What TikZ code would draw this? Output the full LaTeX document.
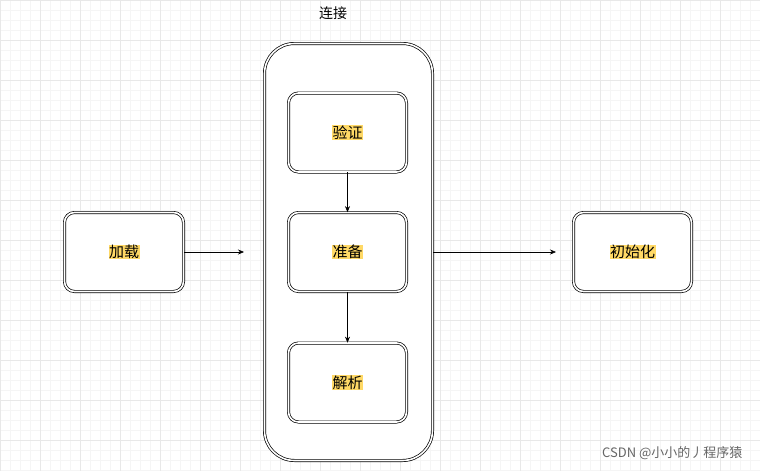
\documentclass[tikz,border=0pt]{standalone}
\usepackage{fontspec}
\setmainfont{Noto Sans CJK SC}
\begin{document}
\begin{tikzpicture}[x=1pt,y=-1pt,
 box/.style={draw,double,double distance=1.6pt,line width=0.7pt,rounded corners=10pt,fill=white},
 hl/.style={fill={rgb,255:red,255;green,217;blue,102},inner sep=0.5pt,font=\fontsize{15}{15}\selectfont},
 arr/.style={-{Stealth[length=6pt,width=5pt]},line width=0.6pt}]
\usetikzlibrary{arrows.meta}
\fill[white] (0,0) rectangle (760,471);
\useasboundingbox (0,0) rectangle (760,471);
\foreach \i in {0,10,...,760} \draw[gray!8] (\i,0) -- (\i,471);
\foreach \j in {0,10,...,470} \draw[gray!8] (0,\j) -- (760,\j);
\foreach \i in {0,40,...,760} \draw[gray!18] (\i,0) -- (\i,471);
\foreach \j in {0,40,...,470} \draw[gray!18] (0,\j) -- (760,\j);
\node[box,rounded corners=30pt,minimum width=168pt,minimum height=417pt] (conn) at (348.5,252) {};
\node[font=\fontsize{14}{14}\selectfont] (lbl) at (333,13) {连接};
\node[box,minimum width=118pt,minimum height=79pt] (yz) at (347.5,132.5) {};
\node[hl] at (yz) {验证};
\node[box,minimum width=118pt,minimum height=79pt] (zb) at (347.5,252) {};
\node[hl] at (zb) {准备};
\node[box,minimum width=118pt,minimum height=79pt] (jx) at (347.5,382.5) {};
\node[hl] at (jx) {解析};
\node[box,minimum width=119pt,minimum height=79pt] (jz) at (124,252) {};
\node[hl] at (jz) {加载};
\node[box,minimum width=118pt,minimum height=79pt] (csh) at (632.5,252) {};
\node[hl] at (csh) {初始化};
\coordinate (a1) at (244,252);
\coordinate (a2) at (556,252);
\draw[arr] (jz.east) -- (a1);
\draw[arr] (conn.east) -- (a2);
\draw[arr] (yz.south) -- (zb.north);
\draw[arr] (zb.south) -- (jx.north);
\node[text=gray!80!black,font=\fontsize{13}{13}\selectfont,anchor=east] (wm) at (746,453) {CSDN @小小的丿程序猿};
\end{tikzpicture}
\end{document}
